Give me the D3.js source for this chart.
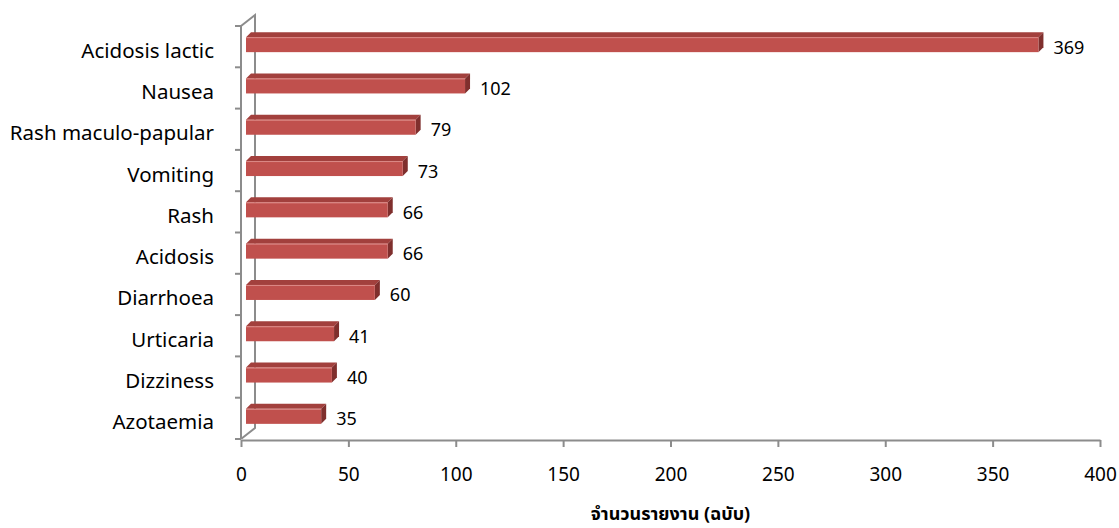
<!DOCTYPE html>
<html>
<head>
<meta charset="utf-8">
<script src="https://cdn.jsdelivr.net/npm/d3@7"></script>
<style>
  body { margin: 0; background: #fff; }
  text { font-family: "Noto Sans", "Noto Sans Thai", "Open Sans", sans-serif; fill: #000; }
</style>
</head>
<body>
<script>
const categories = ["Acidosis lactic", "Nausea", "Rash maculo-papular", "Vomiting", "Rash",
                    "Acidosis", "Diarrhoea", "Urticaria", "Dizziness", "Azotaemia"]
const values = [369, 102, 79, 73, 66, 66, 60, 41, 40, 35]
const xTicks = [0, 50, 100, 150, 200, 250, 300, 350, 400]
const xTitle = "จำนวนรายงาน (ฉบับ)"

const width = 1119, height = 528
const plotLeft = 241, plotRight = 1100, plotTop = 26, plotBottom = 439
// 3d wall offset and bar depth
const wallDx = 14, wallDy = -11
const depthDx = 5, depthDy = -5
const barH = 15
const axisColour = "#8c8c8c"

const x = d3.scaleLinear().domain([0, 400]).range([plotLeft, plotRight])
const y = d3.scaleBand().domain(categories).range([plotTop, plotBottom])

let svg = d3.select("body").append("svg")
    .attr("width", width)
    .attr("height", height)

// back wall + floor edges
let walls = svg.append("g")
    .attr("stroke", axisColour)
    .attr("stroke-width", 2)
    .attr("fill", "none")
walls.append("path")
    .attr("d", `M${plotLeft},${plotTop} L${plotLeft + wallDx},${plotTop + wallDy} L${plotLeft + wallDx},${plotBottom + wallDy} L${plotLeft},${plotBottom}`)

// front vertical axis + ticks at band edges
walls.append("line")
    .attr("x1", plotLeft).attr("x2", plotLeft)
    .attr("y1", plotTop).attr("y2", plotBottom)
let edges = categories.map(c => y(c)).concat([plotBottom])
walls.selectAll(".ytick")
    .data(edges)
    .enter()
    .append("line")
        .attr("x1", plotLeft - 6).attr("x2", plotLeft)
        .attr("y1", d => d).attr("y2", d => d)

// category labels
svg.append("g")
    .selectAll("text")
    .data(categories)
    .enter()
    .append("text")
        .attr("x", 214)
        .attr("y", d => y(d) + y.bandwidth() / 2 + 3)
        .attr("text-anchor", "end")
        .attr("dominant-baseline", "central")
        .attr("font-size", 20.5)
        .text(d => d)

// x axis
let xAxis = svg.append("g")
    .attr("transform", `translate(0, ${plotBottom + 1})`)
    .call(d3.axisBottom(x).tickValues(xTicks).tickSize(7).tickPadding(21).tickSizeOuter(0))
xAxis.select(".domain").attr("stroke", axisColour).attr("stroke-width", 2)
xAxis.selectAll(".tick line").attr("stroke", axisColour).attr("stroke-width", 2)
xAxis.selectAll(".tick text")
    .attr("font-size", 19)
    .attr("fill", "#000")
    .style("font-family", "'Noto Sans', sans-serif")

// bars
const x0 = x(0) + 5
let bars = svg.append("g")
    .selectAll("g")
    .data(categories.map((c, i) => ({ cat: c, value: values[i] })))
    .enter()
    .append("g")

function frontY(d) { return y(d.cat) + y.bandwidth() / 2 - 2 - barH / 2 }

// top face
bars.append("path")
    .attr("fill", "#a2403d")
    .attr("d", d => {
        let y0 = frontY(d), x1 = x0 + (x(d.value) - x(0))
        return `M${x0},${y0} L${x0 + depthDx},${y0 + depthDy} L${x1 + depthDx},${y0 + depthDy} L${x1},${y0} Z`
    })
// side face
bars.append("path")
    .attr("fill", "#7f2f2d")
    .attr("d", d => {
        let y0 = frontY(d), x1 = x0 + (x(d.value) - x(0))
        return `M${x1},${y0} L${x1 + depthDx},${y0 + depthDy} L${x1 + depthDx},${y0 + depthDy + barH} L${x1},${y0 + barH} Z`
    })
// front face
bars.append("rect")
    .attr("x", x0)
    .attr("y", d => frontY(d))
    .attr("width", d => x(d.value) - x(0))
    .attr("height", barH)
    .attr("fill", "#c0504d")
bars.append("line")
    .attr("x1", x0)
    .attr("x2", d => x0 + x(d.value) - x(0))
    .attr("y1", d => frontY(d) + 0.5)
    .attr("y2", d => frontY(d) + 0.5)
    .attr("stroke", "#dc8a87")
    .attr("stroke-width", 1)

// value labels
bars.append("text")
    .attr("x", d => x0 + x(d.value) - x(0) + depthDx + 10)
    .attr("y", d => frontY(d) + barH / 2 + 2)
    .attr("dominant-baseline", "central")
    .attr("font-size", 18)
    .text(d => d.value)

// axis title
svg.append("text")
    .attr("x", (plotLeft + plotRight) / 2)
    .attr("y", 520)
    .attr("text-anchor", "middle")
    .attr("font-size", 18)
    .attr("font-weight", "bold")
    .text(xTitle)
</script>
</body>
</html>
